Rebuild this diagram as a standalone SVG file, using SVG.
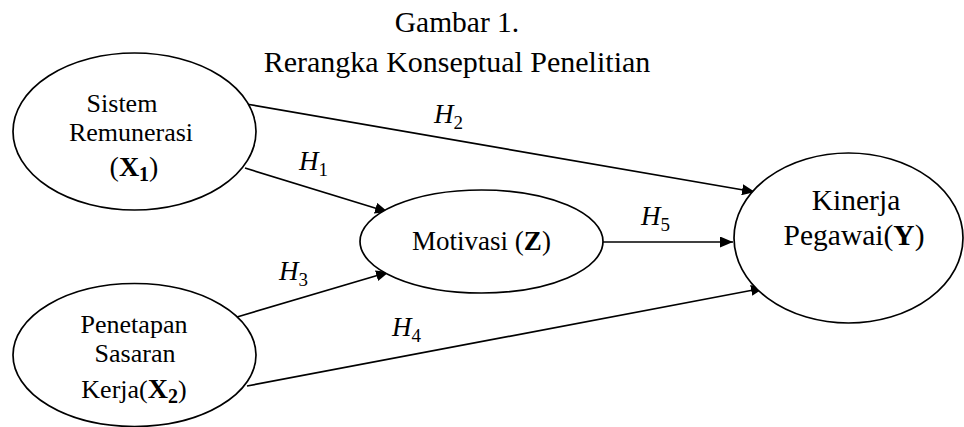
<svg xmlns="http://www.w3.org/2000/svg" width="964" height="427" viewBox="0 0 964 427">
<style>
.node{fill:#fff;stroke:#000;stroke-width:1.7}
.t{font-family:"Liberation Serif","Times New Roman",serif;fill:#000;text-anchor:middle}
.c{stroke:#000;stroke-width:1.7;fill:none}
.h{font-family:"Liberation Serif","Times New Roman",serif;font-style:italic;font-size:27px;fill:#000}
.sub{font-style:normal;font-size:19px}
.b{font-weight:bold}
</style>
<defs>
<marker id="ah" markerUnits="userSpaceOnUse" markerWidth="13" markerHeight="11" refX="13" refY="5.5" orient="auto">
<path d="M0,0 L13,5.5 L0,11 z" fill="#000"/>
</marker>
</defs>
<rect width="964" height="427" fill="#fff"/>
<g id="title">
<text class="t" x="457" y="32" font-size="29.5">Gambar 1.</text>
<text class="t" x="457" y="72" font-size="30">Rerangka Konseptual Penelitian</text>
</g>
<g id="connectors">
<line class="c" x1="245" y1="168" x2="388" y2="212" marker-end="url(#ah)"/>
<line class="c" x1="246" y1="104" x2="755" y2="192" marker-end="url(#ah)"/>
<line class="c" x1="237" y1="317" x2="389" y2="272" marker-end="url(#ah)"/>
<line class="c" x1="247" y1="386" x2="764" y2="288" marker-end="url(#ah)"/>
<line class="c" x1="603" y1="242" x2="733" y2="242" marker-end="url(#ah)"/>
<text class="h" x="299" y="170">H<tspan class="sub" dy="6">1</tspan></text>
<text class="h" x="434" y="123">H<tspan class="sub" dy="6">2</tspan></text>
<text class="h" x="279" y="280">H<tspan class="sub" dy="6">3</tspan></text>
<text class="h" x="392" y="336">H<tspan class="sub" dy="6">4</tspan></text>
<text class="h" x="641" y="225">H<tspan class="sub" dy="6">5</tspan></text>
</g>
<g id="x1">
<ellipse class="node" cx="134.5" cy="131.5" rx="121.5" ry="78.5"/>
<text class="t" x="122" y="112" font-size="26">Sistem</text>
<text class="t" x="131" y="141" font-size="26">Remunerasi</text>
<text class="t" x="134" y="176" font-size="28">(<tspan class="b">X<tspan font-size="20" dy="5">1</tspan></tspan><tspan dy="-5">)</tspan></text>
</g>
<g id="x2">
<ellipse class="node" cx="134.5" cy="355" rx="121.5" ry="71.5"/>
<text class="t" x="134" y="333" font-size="26">Penetapan</text>
<text class="t" x="135" y="362" font-size="26">Sasaran</text>
<text class="t" x="134" y="398" font-size="26">Kerja(<tspan class="b" font-size="28">X<tspan font-size="20" dy="5">2</tspan></tspan><tspan dy="-5">)</tspan></text>
</g>
<g id="z">
<ellipse class="node" cx="481.5" cy="241.5" rx="121.5" ry="51.5"/>
<text class="t" x="481.5" y="250" font-size="27">Motivasi (<tspan class="b">Z</tspan>)</text>
</g>
<g id="y">
<ellipse class="node" cx="848.5" cy="238" rx="114.5" ry="85"/>
<text class="t" x="856" y="210" font-size="29.5">Kinerja</text>
<text class="t" x="854" y="245" font-size="29.5">Pegawai(<tspan class="b">Y</tspan>)</text>
</g>
</svg>
